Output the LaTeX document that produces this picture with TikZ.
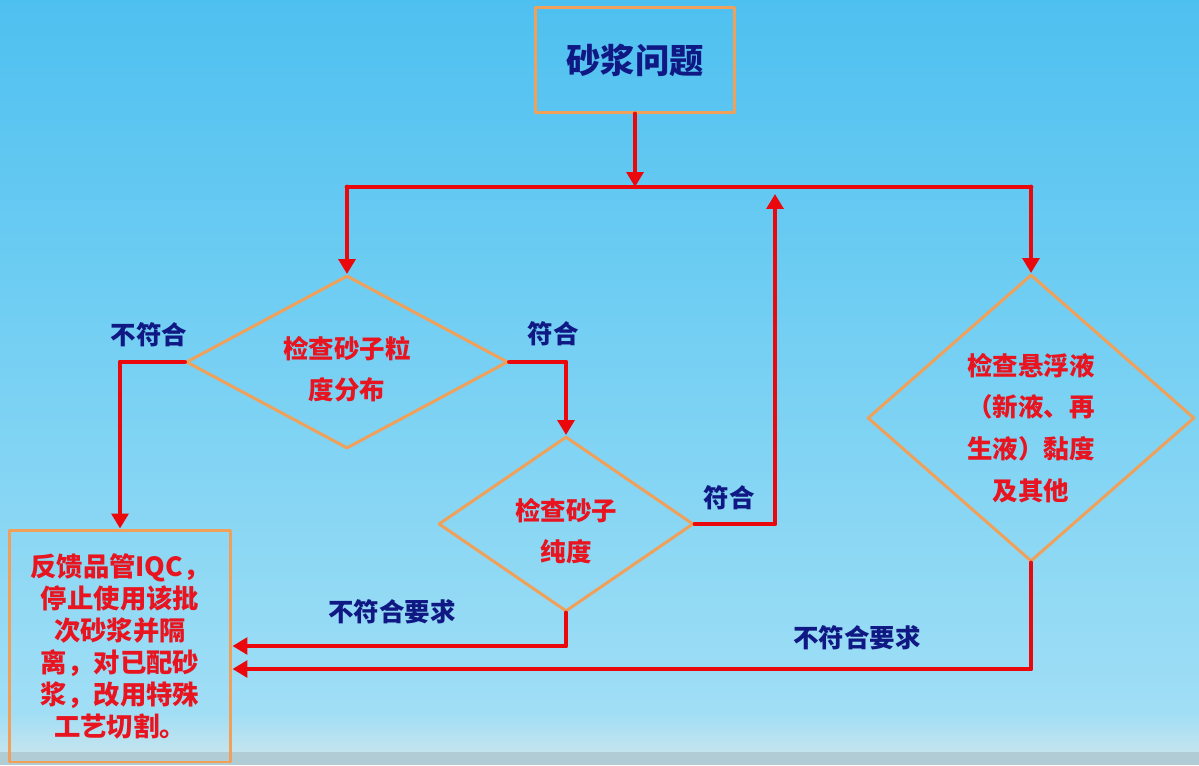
\documentclass[tikz,border=0pt]{standalone}
\usepackage{fontspec}
\newfontfamily\cjk{Noto Sans CJK SC}
\usepackage{tikz}
\usetikzlibrary{arrows.meta,shapes.geometric}

\definecolor{skytop}{RGB}{78,192,240}
\definecolor{skymid}{RGB}{118,208,243}
\definecolor{skylow}{RGB}{160,222,245}
\definecolor{haze}{RGB}{196,228,238}
\definecolor{shore}{RGB}{178,204,214}
\definecolor{edge}{RGB}{240,160,88}
\definecolor{wire}{RGB}{235,8,12}
\definecolor{alert}{RGB}{232,20,32}
\definecolor{ink}{RGB}{16,24,132}

\begin{document}
\begin{tikzpicture}[line cap=round,line join=round,>={Triangle[width=9.5pt,length=8.5pt]},x=0.02cm,y=-0.02cm,
    box/.style={draw=edge,line width=1.7pt,rectangle,inner sep=0pt},
    check/.style={draw=edge,line width=1.7pt,diamond,inner sep=0pt,align=center,text=alert,
      font=\cjk\bfseries\fontsize{14.5}{23.5}\selectfont},
    flow/.style={draw=wire,line width=2.8pt},
    tag/.style={text=ink,font=\cjk\bfseries\fontsize{14.5}{18}\selectfont}]
      % sky
      \shade[top color=skytop,bottom color=skylow,middle color=skymid] (0,0) rectangle (1199,712);
      \shade[top color=skylow,bottom color=haze] (0,712) rectangle (1199,752);
      \fill[shore] (0,752) rectangle (1199,765);

      \node[box,minimum width=3.98cm,minimum height=2.1cm,text=ink,
        font=\cjk\bfseries\fontsize{19.5}{24}\selectfont] (issue) at (635,60) {砂浆问题};
      % the strut in the first line pushes the text a little below the middle
      \node[check,aspect=1.86,minimum width=6.44cm,minimum height=3.46cm] (grain) at (347,362)
        {\rule{0pt}{21pt}检查砂子粒\\度分布};
      \node[check,aspect=1.46,minimum width=5.1cm,minimum height=3.5cm] (purity) at (566,524)
        {\rule{0pt}{21pt}检查砂子\\纯度};
      \node[check,aspect=1.14,minimum width=6.54cm,minimum height=5.74cm,
        font=\cjk\bfseries\fontsize{14.5}{23.8}\selectfont] (fluid) at (1031,418)
        {\rule{0pt}{24pt}检查悬浮液\\（新液、再\\生液）黏度\\及其他};
      \node[box,minimum width=4.44cm,minimum height=4.64cm,align=center,text=alert,
        font=\cjk\bfseries\fontsize{15}{18.2}\selectfont] (feedback) at (120,646)
        {反馈品管IQC，\\停止使用该批\\次砂浆并隔\\离，对已配砂\\浆，改用特殊\\工艺切割。};

      \node[tag] (failA) at (149,335) {不符合};
      \node[tag] (passA) at (553,334) {符合};
      \node[tag] (passB) at (729,498) {符合};
      \node[tag] (failB) at (392,612) {不符合要求};
      \node[tag] (failC) at (857,638) {不符合要求};

      \coordinate (barL) at (347,187);
      \coordinate (barR) at (1031,187);
      \coordinate (back) at (775,194);

      \draw[flow,->] (issue) -- (issue |- barL);
      \draw[flow] (barL) -- (barR);
      \draw[flow,->] (barL) -- (grain);
      \draw[flow,->] (barR) -- (fluid);
      \draw[flow,->] (grain.west) -| (feedback);
      \draw[flow,->] (grain.east) -| (purity);
      \draw[flow,->] (purity.east) -| (back);
      \draw[flow,->] (purity.south) |- (feedback.east);
      \draw[flow,->] (fluid.south) |- ([yshift=-0.46cm]feedback.east);
    \end{tikzpicture}
\end{document}
